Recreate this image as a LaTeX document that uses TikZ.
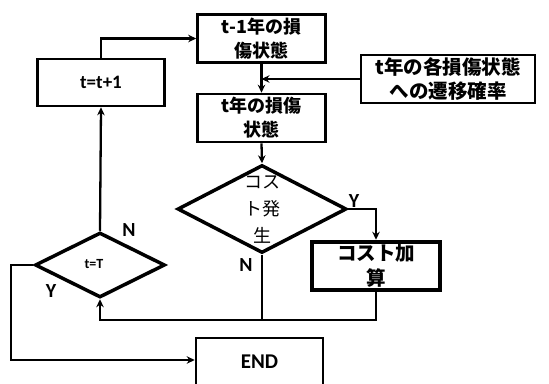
\documentclass[tikz,border=0pt]{standalone}
\usepackage{fontspec}
\setsansfont{Carlito}
\newfontfamily\jp{Noto Sans CJK JP}
\usetikzlibrary{shapes.geometric,arrows.meta}
\begin{document}
\begin{tikzpicture}[x=1pt,y=-1pt,
  conn/.style={line width=2.3pt},
  arr/.style={conn,-{Stealth[length=8pt,width=7.5pt]}},
  boxnode/.style={draw,line width=2.6pt,rectangle,inner sep=0pt},
  dia/.style={draw,line width=3.5pt,diamond,inner sep=0pt},
  jtext/.style={font=\jp\bfseries\fontsize{18}{24}\selectfont,align=center},
  etext/.style={font=\sffamily\bfseries\fontsize{19}{22}\selectfont},
  yn/.style={font=\sffamily\bfseries\fontsize{20}{22}\selectfont}]
\useasboundingbox (0,0) rectangle (549,383);
\clip (0,0) rectangle (549,383);
% boxes
\node[boxnode,minimum width=128pt,minimum height=48pt,jtext] (b1) at (261.5,38.5) {t-1年の損\\傷状態};
\node[boxnode,minimum width=128pt,minimum height=48pt,jtext] (b2) at (261.5,118) {t年の損傷\\状態};
\node[boxnode,minimum width=174pt,minimum height=48pt,jtext,font=\jp\bfseries\fontsize{19.5}{24}\selectfont] (b3) at (448,79) {t年の各損傷状態\\への遷移確率};
\node[boxnode,minimum width=127pt,minimum height=47pt,etext] (b4) at (101,82.5) {t=t+1};
\node[boxnode,line width=4.5pt,minimum width=128pt,minimum height=48pt,jtext,font=\jp\bfseries\fontsize{19.5}{25}\selectfont] (b5) at (376,266) {コスト加\\算};
\node[boxnode,minimum width=127pt,minimum height=52pt,etext,font=\sffamily\bfseries\fontsize{21}{24}\selectfont] (b6) at (259.5,364) {\raisebox{4pt}{END}};
% diamonds
\node[dia,minimum width=169pt,minimum height=88pt] (d1) at (262,209) {};
\node[jtext,font=\jp\fontsize{18}{27}\selectfont] (d1t) at (262,210) {コス\\ト発\\生};
\node[dia,minimum width=130pt,minimum height=65pt] (d2) at (100,265) {};
\node[font=\sffamily\bfseries\fontsize{14}{16}\selectfont] (d2t) at (94,264) {t=T};
% labels
\node[yn] (y1) at (354,201) {Y};
\node[yn] (n1) at (246,265) {N};
\node[yn] (n2) at (129,230) {N};
\node[yn] (y2) at (51,291) {Y};
% connectors
\coordinate (m1) at (b1.south |- b3.west);
\coordinate (j) at (d2.south |- 0,320);
\draw[arr] (b1.south) -- (b2.north);
\draw[arr] (b3.west) -- (m1);
\draw[arr] (b2.south) -- (d1.north);
\draw[arr] (d1.east) -| (b5.north);
\draw[conn] (d1.south) -- (d1.south |- j);
\draw[arr] (b5.south) |- (j) -- (d2.south);
\draw[arr] (d2.north) -- (b4.south);
\draw[arr] (b4.north) |- (b1.west);
\draw[arr] (d2.west) -- ++(-22,0) |- ([yshift=4pt]b6.west);
\end{tikzpicture}
\end{document}
